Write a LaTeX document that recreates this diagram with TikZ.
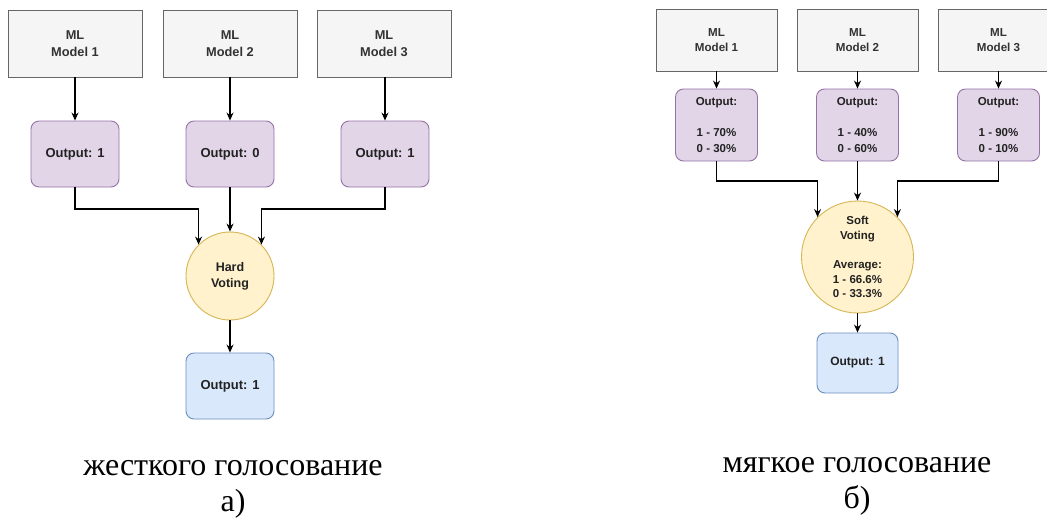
\documentclass[tikz,border=0pt]{standalone}
\usepackage{fontspec}
\setmainfont{Liberation Serif}
\newfontfamily\dsans{Liberation Sans}
\usetikzlibrary{arrows.meta,calc}
\definecolor{gfill}{HTML}{F5F5F5}
\definecolor{gline}{HTML}{666666}
\definecolor{pfill}{HTML}{E1D5E7}
\definecolor{pline}{HTML}{9673A6}
\definecolor{yfill}{HTML}{FFF2CC}
\definecolor{yline}{HTML}{D6B656}
\definecolor{bfill}{HTML}{DAE8FC}
\definecolor{bline}{HTML}{6C8EBF}
\definecolor{tgray}{HTML}{333333}
\definecolor{tdark}{HTML}{222222}
\tikzset{
  base/.style={inner sep=0pt, align=center, line width=0.9pt, text=tdark},
  modelL/.style={base, draw=gline, fill=gfill, text=tgray, minimum width=134pt, minimum height=67pt, font={\dsans\bfseries\fontsize{12.8}{17}\selectfont}},
  modelR/.style={base, draw=gline, fill=gfill, text=tgray, minimum width=121pt, minimum height=62pt, font={\dsans\bfseries\fontsize{11.6}{14.2}\selectfont}},
  outL/.style={base, draw=pline, fill=pfill, rounded corners=8pt, minimum width=88pt, minimum height=66pt, font={\dsans\bfseries\fontsize{13}{17}\selectfont}},
  outR/.style={base, draw=pline, fill=pfill, rounded corners=8pt, minimum width=82pt, minimum height=72pt, font={\dsans\bfseries\fontsize{11.5}{15.5}\selectfont}},
  voteL/.style={base, circle, draw=yline, fill=yfill, minimum size=88pt, font={\dsans\bfseries\fontsize{12.5}{16}\selectfont}},
  voteR/.style={base, circle, draw=yline, fill=yfill, minimum size=112pt, font={\dsans\bfseries\fontsize{11.5}{14.6}\selectfont}},
  finL/.style={base, draw=bline, fill=bfill, rounded corners=8pt, minimum width=88pt, minimum height=66pt, font={\dsans\bfseries\fontsize{13}{17}\selectfont}},
  finR/.style={base, draw=bline, fill=bfill, rounded corners=8pt, minimum width=81pt, minimum height=60pt, font={\dsans\bfseries\fontsize{12}{15}\selectfont}},
  arr/.style={line width=1.1pt, -{Stealth[length=8pt,width=7pt]}},
  captext/.style={align=center, inner sep=0pt, font={\fontsize{32}{36}\selectfont}},
}
\begin{document}
\begin{tikzpicture}[x=1pt,y=-1pt]
\clip (0,0) rectangle (1047,523);
\fill[white] (0,0) rectangle (1047,523);
% ---------- left: hard voting ----------
\node[modelL] (m1) at (75,43.5) {ML\\Model 1};
\node[modelL] (m2) at (230,43.5) {ML\\Model 2};
\node[modelL] (m3) at (384,43.5) {ML\\Model 3};
\node[outL] (o1) at (75,154) {Output: 1};
\node[outL] (o2) at (230,154) {Output: 0};
\node[outL] (o3) at (385,154) {Output: 1};
\node[voteL] (hv) at (230,276) {Hard\\Voting};
\node[finL] (hf) at (230,386) {Output: 1};
\coordinate (jl) at (0,209);
\draw[arr] (m1) -- (o1);
\draw[arr] (m2) -- (o2);
\draw[arr] (m3.south -| o3) -- (o3);
\draw[arr] (o1.south) -- (o1.south |- jl) -| (hv.135);
\draw[arr] (o2) -- (hv);
\draw[arr] (o3.south) -- (o3.south |- jl) -| (hv.45);
\draw[arr] (hv) -- (hf);
\node[captext] (cl) at (233,489) {жесткого голосование\\а)};
% ---------- right: soft voting ----------
\node[modelR] (n1) at (716.5,40) {ML\\Model 1};
\node[modelR] (n2) at (857.5,40) {ML\\Model 2};
\node[modelR] (n3) at (998.5,40) {ML\\Model 3};
\node[outR] (p1) at (716.5,125) {Output:\\[15.5pt]1 - 70\%\\0 - 30\%};
\node[outR] (p2) at (857.5,125) {Output:\\[15.5pt]1 - 40\%\\0 - 60\%};
\node[outR] (p3) at (998.5,125) {Output:\\[15.5pt]1 - 90\%\\0 - 10\%};
\node[voteR] (sv) at (857.5,257) {Soft\\Voting\\[14.6pt]Average:\\1 - 66.6\%\\0 - 33.3\%};
\node[finR] (sf) at (857.5,363) {Output: 1};
\coordinate (jr) at (0,181);
\draw[arr] (n1) -- (p1);
\draw[arr] (n2) -- (p2);
\draw[arr] (n3) -- (p3);
\draw[arr] (p1.south) -- (p1.south |- jr) -| (sv.135);
\draw[arr] (p2) -- (sv);
\draw[arr] (p3.south) -- (p3.south |- jr) -| (sv.45);
\draw[arr] (sv) -- (sf);
\node[captext] (cr) at (857,486) {мягкое голосование\\б)};
\end{tikzpicture}
\end{document}
